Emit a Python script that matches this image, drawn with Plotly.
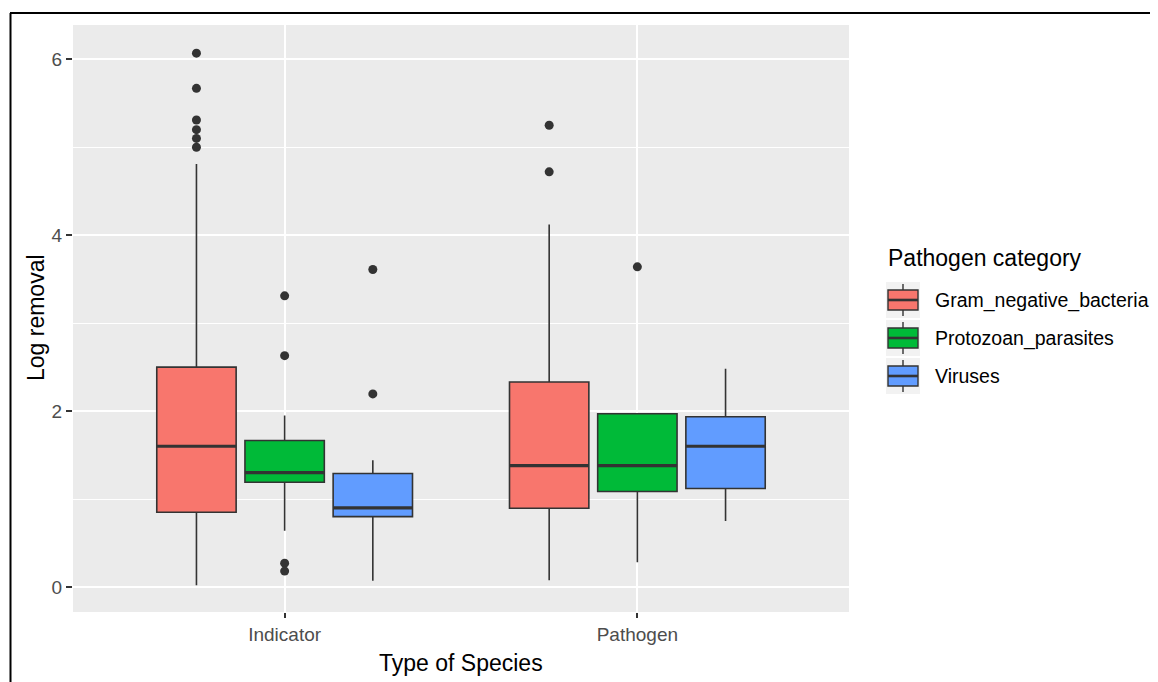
import plotly.graph_objects as go

# ---------------- data ----------------
species = ["Indicator", "Pathogen"]
categories = ["Gram_negative_bacteria", "Protozoan_parasites", "Viruses"]
colors = ["#F8766D", "#00BA38", "#619CFF"]

# box statistics, each list is [Indicator, Pathogen]
gnb_q1 = [0.85, 0.895]
gnb_median = [1.60, 1.38]
gnb_q3 = [2.50, 2.33]
gnb_low = [0.02, 0.076]
gnb_high = [4.81, 4.12]

pp_q1 = [1.19, 1.085]
pp_median = [1.30, 1.38]
pp_q3 = [1.665, 1.97]
pp_low = [0.64, 0.28]
pp_high = [1.95, 1.97]

vir_q1 = [0.80, 1.12]
vir_median = [0.90, 1.60]
vir_q3 = [1.29, 1.935]
vir_low = [0.07, 0.75]
vir_high = [1.44, 2.48]

# outliers, each is [Indicator list, Pathogen list]
gnb_out = [[6.07, 5.67, 5.31, 5.20, 5.10, 5.00], [5.25, 4.72]]
pp_out = [[3.31, 2.63, 0.27, 0.18], [3.64]]
vir_out = [[3.61, 2.195], []]

stats = [
    (gnb_q1, gnb_median, gnb_q3, gnb_low, gnb_high, gnb_out),
    (pp_q1, pp_median, pp_q3, pp_low, pp_high, pp_out),
    (vir_q1, vir_median, vir_q3, vir_low, vir_high, vir_out),
]

# ---------------- layout constants ----------------
W, H = 1158, 682
OFF = 8  # page body margin in the browser
PL, PR, PT, PB = 73 - OFF, 849 - OFF, 25 - OFF, 612 - OFF  # panel pixel box (figure coords)
DODGE = 0.25
BOXW = 0.225
FONT = "Liberation Sans, Arial, sans-serif"
DARK = "#333333"

fig = go.Figure()

for j, (cat, col, st) in enumerate(zip(categories, colors, stats)):
    q1, med, q3, lo, hi, outs = st
    xs = [i + 1 + (j - 1) * DODGE for i in range(len(species))]
    fig.add_trace(go.Box(
        x=xs, q1=q1, median=med, q3=q3, lowerfence=lo, upperfence=hi,
        width=BOXW, boxpoints=False, fillcolor=col,
        line=dict(color=DARK, width=1.6), whiskerwidth=0,
        name=cat, showlegend=False, hoverinfo="skip",
    ))
    # thicker median line (ggplot fatten)
    mx, my = [], []
    for x, m in zip(xs, med):
        mx += [x - BOXW / 2, x + BOXW / 2, None]
        my += [m, m, None]
    fig.add_trace(go.Scatter(x=mx, y=my, mode="lines",
                             line=dict(color=DARK, width=3.2),
                             showlegend=False, hoverinfo="skip"))
    # outliers
    ox, oy = [], []
    for x, vals in zip(xs, outs):
        ox += [x] * len(vals)
        oy += vals
    fig.add_trace(go.Scatter(x=ox, y=oy, mode="markers",
                             marker=dict(color=DARK, size=9),
                             showlegend=False, hoverinfo="skip"))

# ---------------- helpers: screen pixel -> paper coords ----------------
def px_x(p):
    return (p - OFF - PL) / (PR - PL)

def px_y(p):
    return (PB - (p - OFF)) / (PB - PT)

shapes = []
annotations = []

# legend (drawn manually, ggplot-style keys)
annotations.append(dict(x=px_x(886), y=px_y(258), xref="paper", yref="paper",
                        text="Pathogen category", showarrow=False,
                        xanchor="left", yanchor="middle",
                        font=dict(family=FONT, size=23, color="#000000")))
row_c = [300, 338, 376]
for cat, col, yc in zip(categories, colors, row_c):
    shapes.append(dict(type="rect", xref="paper", yref="paper",
                       x0=px_x(886), x1=px_x(920), y0=px_y(yc - 18), y1=px_y(yc + 18),
                       fillcolor="#F2F2F2", line=dict(width=0), layer="above"))
    shapes.append(dict(type="line", xref="paper", yref="paper",
                       x0=px_x(903), x1=px_x(903), y0=px_y(yc - 16), y1=px_y(yc + 16),
                       line=dict(color=DARK, width=1.4), layer="above"))
    shapes.append(dict(type="rect", xref="paper", yref="paper",
                       x0=px_x(888), x1=px_x(918), y0=px_y(yc - 10), y1=px_y(yc + 10),
                       fillcolor=col, line=dict(color=DARK, width=1.4), layer="above"))
    shapes.append(dict(type="line", xref="paper", yref="paper",
                       x0=px_x(888), x1=px_x(918), y0=px_y(yc), y1=px_y(yc),
                       line=dict(color=DARK, width=2.6), layer="above"))
    annotations.append(dict(x=px_x(933), y=px_y(yc), xref="paper", yref="paper",
                            text=cat, showarrow=False, xanchor="left", yanchor="middle",
                            font=dict(family=FONT, size=19.5, color="#000000")))

# outer frame lines (top and left)
shapes.append(dict(type="line", xref="paper", yref="paper",
                   x0=px_x(10), x1=px_x(W + 20), y0=px_y(13), y1=px_y(13),
                   line=dict(color="#000000", width=2)))
shapes.append(dict(type="line", xref="paper", yref="paper",
                   x0=px_x(10.5), x1=px_x(10.5), y0=px_y(13), y1=px_y(H + 20),
                   line=dict(color="#000000", width=2)))

# axis titles
annotations.append(dict(x=px_x(461), y=px_y(663), xref="paper", yref="paper",
                        text="Type of Species", showarrow=False,
                        xanchor="center", yanchor="middle",
                        font=dict(family=FONT, size=23, color="#000000")))
annotations.append(dict(x=px_x(36), y=px_y(318), xref="paper", yref="paper",
                        text="Log removal", showarrow=False, textangle=-90,
                        xanchor="center", yanchor="middle",
                        font=dict(family=FONT, size=23, color="#000000")))

fig.update_layout(
    width=W, height=H,
    margin=dict(l=PL, r=W - PR, t=PT, b=H - PB, pad=0),
    paper_bgcolor="#FFFFFF", plot_bgcolor="#EBEBEB",
    showlegend=False,
    shapes=shapes, annotations=annotations,
    font=dict(family=FONT),
)

fig.update_xaxes(
    range=[0.4, 2.6], tickvals=[1, 2], ticktext=species,
    showgrid=True, gridcolor="#FFFFFF", gridwidth=2,
    zeroline=False, showline=False,
    ticks="outside", ticklen=5, tickwidth=1.5, tickcolor=DARK,
    tickfont=dict(family=FONT, size=19, color="#4D4D4D"),
)
fig.update_yaxes(
    range=[-0.285, 6.39], tickvals=[0, 2, 4, 6],
    showgrid=True, gridcolor="#FFFFFF", gridwidth=2,
    minor=dict(tickvals=[1, 3, 5], showgrid=True, gridcolor="#FFFFFF", gridwidth=1.2, ticklen=0),
    zeroline=False, showline=False,
    ticks="outside", ticklen=6, tickwidth=1.5, tickcolor=DARK,
    tickfont=dict(family=FONT, size=19, color="#4D4D4D"),
)

fig.write_html("out.html")
